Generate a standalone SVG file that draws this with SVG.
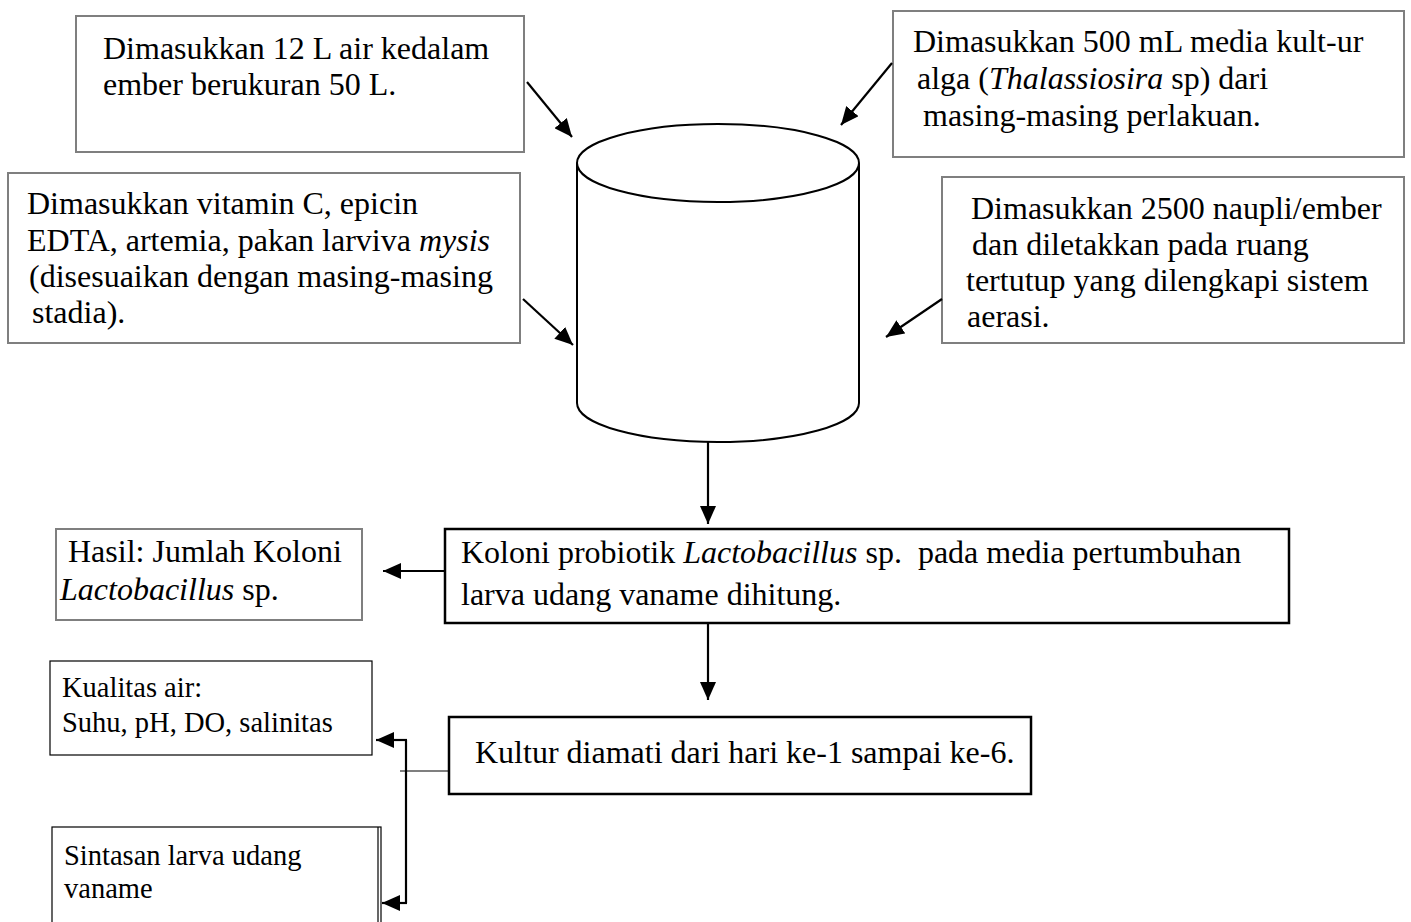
<svg xmlns="http://www.w3.org/2000/svg" width="1411" height="922" viewBox="0 0 1411 922">
<style>
  .t { font-family: "Liberation Serif", "Times New Roman", serif; font-size: 32px; fill: #000; }
  .s { font-family: "Liberation Serif", "Times New Roman", serif; font-size: 28.5px; fill: #000; }
  .i { font-style: italic; }
  .gbox { fill: #fff; stroke: #7f7f7f; stroke-width: 2; }
  .kbox { fill: #fff; stroke: #000; stroke-width: 2.5; }
  .tbox { fill: #fff; stroke: #000; stroke-width: 1.2; }
  .conn { fill: none; stroke: #000; stroke-width: 2.2; }
  .thin { fill: none; stroke: #000; stroke-width: 1.2; }
  .cyl { fill: #fff; stroke: #000; stroke-width: 2; }
</style>
<defs>
  <marker id="ah" viewBox="0 0 18 16" refX="18" refY="8" markerWidth="18" markerHeight="16" markerUnits="userSpaceOnUse" orient="auto">
    <path d="M0,0 L18,8 L0,16 z" fill="#000"/>
  </marker>
</defs>

<g id="box-air">
  <rect class="gbox" x="76" y="16" width="448" height="136"/>
  <text class="t" x="103" y="59">Dimasukkan 12 L air kedalam</text>
  <text class="t" x="103" y="95">ember berukuran 50 L.</text>
</g>

<g id="box-alga">
  <rect class="gbox" x="893" y="11" width="511" height="146"/>
  <text class="t" x="913" y="52">Dimasukkan 500 mL media kult-ur</text>
  <text class="t" x="917" y="89">alga (<tspan class="i">Thalassiosira</tspan> sp) dari</text>
  <text class="t" x="923" y="126">masing-masing perlakuan.</text>
</g>

<g id="box-vitamin">
  <rect class="gbox" x="8" y="173" width="512" height="170"/>
  <text class="t" x="27" y="214">Dimasukkan vitamin C, epicin</text>
  <text class="t" x="27" y="251">EDTA, artemia, pakan larviva <tspan class="i">mysis</tspan></text>
  <text class="t" x="29" y="287">(disesuaikan dengan masing-masing</text>
  <text class="t" x="32" y="323">stadia).</text>
</g>

<g id="box-naupli">
  <rect class="gbox" x="942" y="177" width="462" height="166"/>
  <text class="t" x="971" y="219">Dimasukkan 2500 naupli/ember</text>
  <text class="t" x="972" y="255">dan diletakkan pada ruang</text>
  <text class="t" x="966" y="291">tertutup yang dilengkapi sistem</text>
  <text class="t" x="967" y="327">aerasi.</text>
</g>

<g id="ember">
  <path class="cyl" d="M577,163 V403 A141,39 0 0 0 859,403 V163"/>
  <ellipse class="cyl" cx="718" cy="163" rx="141" ry="39"/>
</g>

<g id="box-koloni">
  <rect class="kbox" x="445" y="529" width="844" height="94"/>
  <text class="t" x="461" y="563" xml:space="preserve">Koloni probiotik <tspan class="i">Lactobacillus</tspan> sp.  pada media pertumbuhan</text>
  <text class="t" x="461" y="605">larva udang vaname dihitung.</text>
</g>

<g id="box-hasil">
  <rect class="gbox" x="56" y="529" width="306" height="91"/>
  <text class="t" x="68" y="562">Hasil: Jumlah Koloni</text>
  <text class="t" x="60" y="600"><tspan class="i">Lactobacillus</tspan> sp.</text>
</g>

<g id="box-kultur">
  <rect class="kbox" x="449" y="717" width="582" height="77"/>
  <text class="t" x="475" y="763">Kultur diamati dari hari ke-1 sampai ke-6.</text>
</g>

<g id="box-kualitas">
  <rect class="tbox" x="50" y="661" width="322" height="94"/>
  <text class="s" x="62" y="697">Kualitas air:</text>
  <text class="s" x="62" y="732">Suhu, pH, DO, salinitas</text>
</g>

<g id="box-sintasan">
  <rect class="tbox" x="52" y="827" width="329" height="100"/>
  <line class="thin" x1="378" y1="827" x2="378" y2="922"/>
  <text class="s" x="64" y="865">Sintasan larva udang</text>
  <text class="s" x="64" y="898">vaname</text>
</g>

<g id="connectors">
  <line class="conn" x1="527" y1="82" x2="572" y2="137" marker-end="url(#ah)"/>
  <line class="conn" x1="892" y1="63" x2="841" y2="125" marker-end="url(#ah)"/>
  <line class="conn" x1="523" y1="299" x2="573" y2="345" marker-end="url(#ah)"/>
  <line class="conn" x1="942" y1="299" x2="886" y2="337" marker-end="url(#ah)"/>
  <line class="conn" x1="708" y1="442" x2="708" y2="524" marker-end="url(#ah)"/>
  <line class="conn" x1="445" y1="571" x2="383" y2="571" marker-end="url(#ah)"/>
  <line class="conn" x1="708" y1="623" x2="708" y2="700" marker-end="url(#ah)"/>
  <line class="thin" x1="449" y1="771" x2="400" y2="771"/>
  <polyline class="conn" points="406,740 406,903"/>
  <line class="conn" x1="407" y1="740" x2="376" y2="740" marker-end="url(#ah)"/>
  <line class="conn" x1="407" y1="903" x2="382" y2="903" marker-end="url(#ah)"/>
</g>
</svg>
